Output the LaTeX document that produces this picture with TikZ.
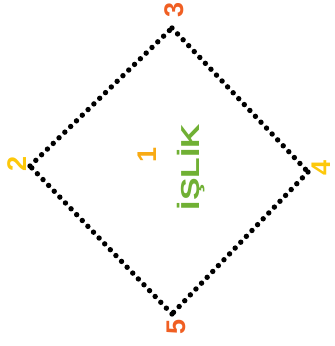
\documentclass[tikz,border=0pt]{standalone}
\usepackage{fontspec}
\setmainfont{Liberation Sans}
\definecolor{myorange}{RGB}{240,95,35}
\definecolor{myyellow}{RGB}{253,200,10}
\definecolor{mygold}{RGB}{248,170,20}
\definecolor{mygreen}{RGB}{112,176,52}
\tikzset{
  dotline/.style={line width=5.4pt, line cap=round, dash pattern=on 0pt off 8.1pt},
  num/.style={font=\bfseries\fontsize{27}{27}\selectfont, rotate=90, inner sep=0pt}
}

\begin{document}
\begin{tikzpicture}[x=1pt,y=-1pt]
\useasboundingbox (0,0) rectangle (335,346);

% corners of the diamond
\coordinate (c2) at (30,166);
\coordinate (c3) at (172,28);
\coordinate (c4) at (308,172);
\coordinate (c5) at (172,314);

\draw[dotline] (c2) -- (c3);
\draw[dotline] (c3) -- (c4);
\draw[dotline] (c4) -- (c5);
\draw[dotline] (c5) -- (c2);

% corner numbers
\node[num, text=myyellow] (n2) at (17,164) {2};
\node[num, text=myorange] (n3) at (174,10) {3};
\node[num, text=myyellow] (n4) at (321,168) {4};
\node[num, text=myorange] (n5) at (176,327) {5};

% centre
\node[num, text=mygold] (n1) at (147,155) {1};
\node[rotate=90, text=mygreen, inner sep=0pt,
      font=\bfseries\fontsize{26}{26}\selectfont] (word) at (191,167) {\scalebox{1.3}[1]{İŞLİK}};
\end{tikzpicture}
\end{document}
